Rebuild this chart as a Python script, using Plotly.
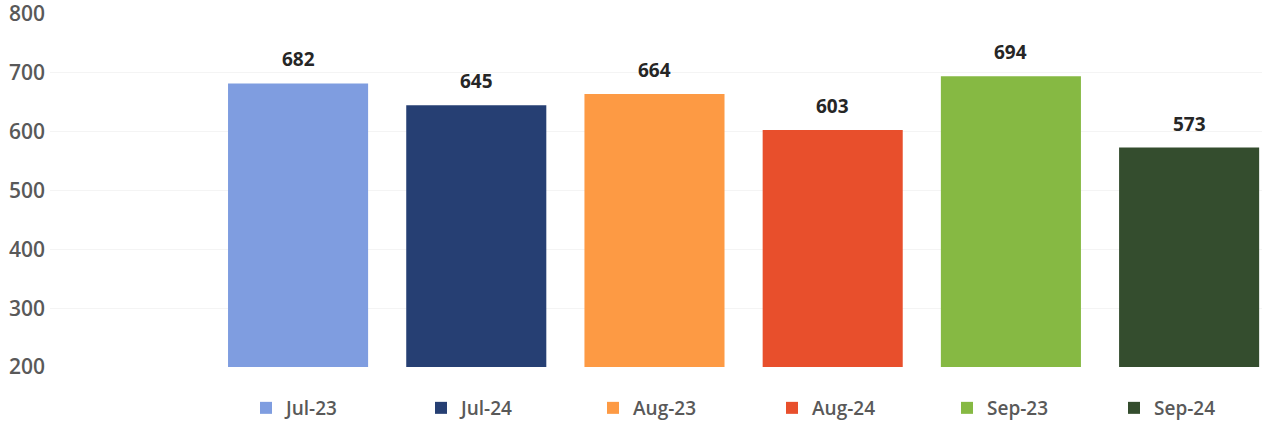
import plotly.graph_objects as go

# Monthly totals, same month a year apart
months = ["Jul-23", "Jul-24", "Aug-23", "Aug-24", "Sep-23", "Sep-24"]
totals = [682, 645, 664, 603, 694, 573]
bar_colors = ["#7f9de0", "#263f73", "#fd9a44", "#e84f2c", "#86b943", "#344d2e"]

y_ticks = [200, 300, 400, 500, 600, 700, 800]

FONT = "Open Sans"
W, H = 1262, 421

# left edge (px) of each legend entry along the bottom row
legend_left_px = [246, 421, 593, 772, 947, 1114]

fig = go.Figure()
layout_legends = {}
for i, (name, val, col) in enumerate(zip(months, totals, bar_colors)):
    leg_id = "legend" if i == 0 else f"legend{i + 1}"
    fig.add_trace(go.Bar(
        x=[name], y=[val], name=name,
        marker=dict(color=col, line=dict(width=0)),
        width=0.786,
        legend=leg_id,
    ))
    fig.add_annotation(
        x=name, y=val, text=str(val), showarrow=False,
        yanchor="bottom", yshift=9,
        font=dict(family=FONT, size=19, color="#262626", weight="bold"),
    )
    layout_legends[leg_id] = dict(
        orientation="h",
        xref="container", yref="container",
        x=legend_left_px[i] / W, xanchor="left",
        y=(H - 408) / H, yanchor="middle",
        itemwidth=30,
        font=dict(family=FONT, size=19, color="#595959", weight=600),
        bgcolor="rgba(0,0,0,0)",
    )

fig.update_layout(
    width=W, height=H,
    margin=dict(l=50, r=0, t=14, b=54),
    paper_bgcolor="white", plot_bgcolor="white",
    barmode="overlay",
    showlegend=True,
    xaxis=dict(
        type="category", categoryorder="array", categoryarray=months,
        range=[-1.392, 5.409], showticklabels=False, showgrid=False,
        zeroline=False, showline=False, ticks="",
    ),
    yaxis=dict(
        range=[200, 800], tickvals=y_ticks,
        showgrid=True, gridcolor="#f4f4f4", gridwidth=1,
        zeroline=False, showline=False, ticks="",
        tickfont=dict(family=FONT, size=21, color="#595959", weight=600),
        ticklabelstandoff=4,
        ticklabeloverflow="allow",
    ),
    **layout_legends,
)

fig.write_html("out.html")
